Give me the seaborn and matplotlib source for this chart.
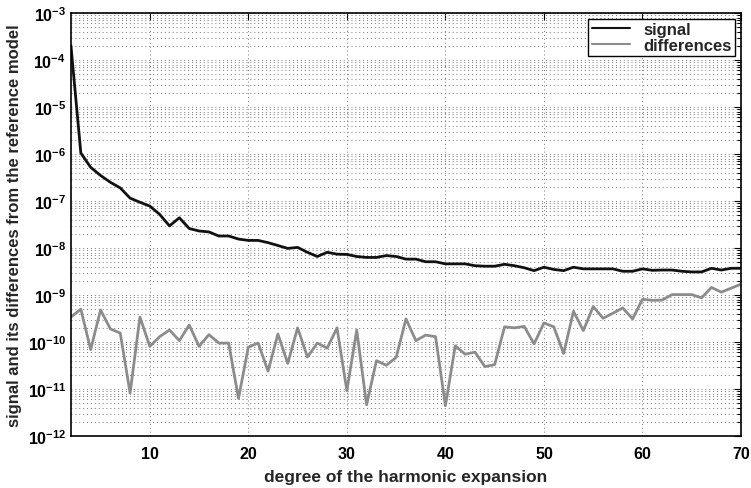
import numpy as np
import pandas as pd
import seaborn as sns
import matplotlib
matplotlib.use("Agg")
import matplotlib.pyplot as plt
from matplotlib.ticker import FixedLocator, FuncFormatter, NullFormatter

# Harmonic degree
degree = list(range(2, 71))

# Signal power per degree
signal = [
    2.0e-4, 1.05e-6, 5.2e-7, 3.5e-7, 2.5e-7, 1.9e-7, 1.15e-7, 9.4e-8, 7.8e-8,
    5.2e-8, 2.95e-8, 4.4e-8, 2.6e-8, 2.3e-8, 2.2e-8, 1.8e-8, 1.8e-8, 1.55e-8,
    1.45e-8, 1.45e-8, 1.3e-8, 1.13e-8, 9.8e-9, 1.03e-8, 8.1e-9, 6.6e-9, 8.1e-9,
    7.4e-9, 7.3e-9, 6.6e-9, 6.3e-9, 6.3e-9, 6.9e-9, 6.6e-9, 5.8e-9, 5.8e-9,
    5.1e-9, 5.1e-9, 4.6e-9, 4.6e-9, 4.6e-9, 4.2e-9, 4.1e-9, 4.1e-9, 4.5e-9,
    4.2e-9, 3.8e-9, 3.3e-9, 3.9e-9, 3.5e-9, 3.3e-9, 3.9e-9, 3.6e-9, 3.6e-9,
    3.6e-9, 3.6e-9, 3.2e-9, 3.2e-9, 3.6e-9, 3.35e-9, 3.4e-9, 3.4e-9, 3.2e-9,
    3.1e-9, 3.1e-9, 3.7e-9, 3.4e-9, 3.7e-9, 3.7e-9,
]

# Differences from the reference model per degree
differences = [
    3.4e-10, 5.0e-10, 6.9e-11, 4.8e-10, 1.9e-10, 1.55e-10, 8.2e-12, 3.4e-10,
    8.1e-11, 1.3e-10, 1.8e-10, 1.07e-10, 2.3e-10, 8.1e-11, 1.44e-10, 9.5e-11,
    9.5e-11, 6.3e-12, 7.8e-11, 9.5e-11, 2.4e-11, 1.48e-10, 3.5e-11, 2.0e-10,
    4.8e-11, 9.5e-11, 7.4e-11, 2.0e-10, 9.2e-12, 1.8e-10, 4.6e-12, 4.0e-11,
    3.2e-11, 4.7e-11, 3.1e-10, 1.07e-10, 1.4e-10, 1.3e-10, 4.4e-12, 8.3e-11,
    5.5e-11, 6.1e-11, 3.0e-11, 3.3e-11, 2.1e-10, 2.0e-10, 2.15e-10, 9.1e-11,
    2.55e-10, 2.1e-10, 5.7e-11, 4.5e-10, 1.75e-10, 5.7e-10, 3.2e-10, 4.1e-10,
    5.3e-10, 3.1e-10, 8.1e-10, 7.7e-10, 7.8e-10, 1.02e-9, 1.02e-9, 1.02e-9,
    8.7e-10, 1.45e-9, 1.15e-9, 1.4e-9, 1.7e-9,
]

series_names = ["signal", "differences"]
series_colors = ["#111111", "#8c8c8c"]

x_ticks = [10, 20, 30, 40, 50, 60, 70]
y_exponents = list(range(-12, -2))

df = pd.DataFrame({
    "degree": degree * 2,
    "value": signal + differences,
    "series": [series_names[0]] * len(degree) + [series_names[1]] * len(degree),
})

sns.set_style("white")
plt.rcParams["font.family"] = ["Liberation Sans", "DejaVu Sans"]
plt.rcParams["font.weight"] = "bold"
plt.rcParams["mathtext.fontset"] = "custom"
plt.rcParams["mathtext.rm"] = "Liberation Sans:bold"
plt.rcParams["mathtext.bf"] = "Liberation Sans:bold"
plt.rcParams["mathtext.it"] = "Liberation Sans:bold"

fig = plt.figure(figsize=(7.51, 4.89), dpi=100)
ax = fig.add_axes([0.0945, 0.1063, 0.8922, 0.8651])

sns.lineplot(data=df, x="degree", y="value", hue="series",
             palette=dict(zip(series_names, series_colors)),
             linewidth=2.0, ax=ax)

ax.set_yscale("log")
ax.set_xlim(2, 70)
ax.set_ylim(1e-12, 1e-3)

# explicit tick positions inside the visible range
major_y = [10.0 ** e for e in y_exponents]
minor_y = [m * 10.0 ** e for e in y_exponents[:-1] for m in range(2, 10)]
ax.xaxis.set_major_locator(FixedLocator(x_ticks))
ax.yaxis.set_major_locator(FixedLocator(major_y))
ax.yaxis.set_minor_locator(FixedLocator(minor_y))
ax.yaxis.set_minor_formatter(NullFormatter())
ax.yaxis.set_major_formatter(
    FuncFormatter(lambda v, p: r"$\mathbf{10^{%d}}$" % int(round(np.log10(v)))))

ax.grid(True, which="major", axis="both", linestyle=(0, (1, 3)),
        color="#777777", linewidth=0.7)
ax.grid(True, which="minor", axis="y", linestyle=(0, (1, 3)),
        color="#777777", linewidth=0.7)

ax.tick_params(axis="both", which="both", direction="in", top=True, right=True,
               labelsize=11.5, width=0.8, colors="black")
ax.tick_params(axis="x", which="major", pad=7)
ax.tick_params(which="major", length=5)
ax.tick_params(which="minor", length=3)
for lbl in ax.get_xticklabels() + ax.get_yticklabels():
    lbl.set_fontweight("bold")

for s in ax.spines.values():
    s.set_visible(True)
    s.set_color("black")
    s.set_linewidth(1.2)

ax.set_xlabel("degree of the harmonic expansion", fontsize=12.5,
              fontweight="bold", labelpad=6)
ax.set_ylabel("signal and its differences from the reference model",
              fontsize=12, fontweight="bold", labelpad=4)

leg = ax.legend(loc="upper right", fontsize=12, frameon=True, fancybox=False,
                borderaxespad=0.35, handlelength=2.3, borderpad=0.2,
                labelspacing=0.05, handletextpad=0.8, title=None)
leg.get_frame().set_edgecolor("black")
leg.get_frame().set_linewidth(1.0)
leg.get_frame().set_alpha(1.0)
for t in leg.get_texts():
    t.set_fontweight("bold")
for h in leg.get_lines():
    h.set_linewidth(1.5)

fig.savefig("out.png", dpi=100, facecolor="white")
